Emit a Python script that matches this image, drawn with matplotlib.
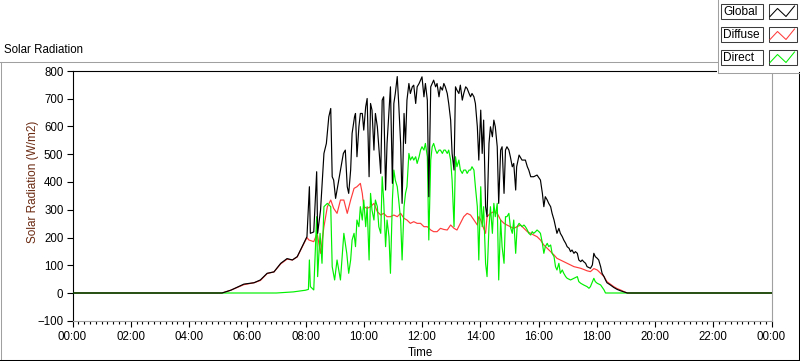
import matplotlib
matplotlib.use("Agg")
import matplotlib.pyplot as plt
from matplotlib.patches import Rectangle
from matplotlib.ticker import MultipleLocator

plt.rcParams['font.family'] = ['Liberation Sans', 'DejaVu Sans']

# ---------------- data (time in minutes since midnight, W/m2) ----------------
global_time = [0, 300, 308, 326, 353, 374, 387, 401, 415, 429, 442, 453, 463, 473, 483,
               488, 490, 497, 503, 505, 511, 518, 523, 528, 532, 535, 538, 542, 545, 552,
               558, 562, 566, 569, 573, 576, 581, 583, 586, 590, 593, 597, 600, 604, 607,
               611, 614, 617, 621, 624, 628, 635, 638, 641, 645, 648, 655, 659, 662, 665,
               669, 672, 676, 679, 683, 686, 689, 693, 696, 700, 703, 707, 710, 714, 717,
               720, 724, 727, 731, 734, 738, 741, 744, 748, 751, 755, 758, 762, 765, 768,
               772, 775, 779, 782, 786, 789, 792, 796, 799, 803, 806, 810, 813, 817, 820,
               823, 827, 830, 834, 837, 841, 844, 847, 851, 854, 858, 861, 865, 868, 871,
               875, 878, 882, 885, 889, 892, 895, 899, 902, 906, 909, 913, 915, 920, 926,
               933, 937, 940, 944, 950, 957, 964, 968, 971, 974, 978, 981, 985, 988, 992,
               995, 998, 1002, 1005, 1009, 1012, 1016, 1019, 1023, 1026, 1029, 1033, 1036, 1040, 1043,
               1047, 1050, 1053, 1057, 1060, 1067, 1071, 1074, 1077, 1081, 1084, 1088, 1091, 1095, 1098,
               1101, 1108, 1115, 1122, 1129, 1136, 1143, 1440]
global_vals = [0, 0, 0, 10, 32, 37, 47, 71, 76, 107, 124, 119, 131, 167, 203,
               383, 215, 220, 437, 215, 299, 503, 539, 635, 665, 419, 407, 341, 371, 443,
               503, 515, 383, 359, 443, 575, 635, 647, 491, 599, 647, 647, 587, 671, 701,
               419, 683, 659, 515, 647, 599, 431, 695, 707, 371, 539, 743, 395, 683, 719,
               780, 683, 539, 323, 647, 539, 695, 755, 719, 743, 749, 683, 743, 755, 767,
               779, 707, 755, 695, 347, 743, 755, 767, 743, 755, 707, 743, 731, 755, 743,
               719, 683, 623, 503, 443, 743, 731, 719, 749, 695, 719, 743, 737, 719, 707,
               719, 707, 683, 599, 479, 659, 503, 623, 311, 275, 539, 599, 563, 623, 599,
               527, 323, 515, 527, 359, 515, 527, 515, 491, 455, 467, 371, 455, 497, 479,
               479, 455, 443, 419, 419, 425, 407, 359, 311, 347, 335, 323, 311, 287, 263,
               239, 215, 233, 215, 203, 191, 179, 167, 161, 149, 155, 143, 149, 143, 119,
               113, 119, 113, 107, 95, 89, 101, 143, 131, 125, 119, 95, 71, 59, 47,
               37, 29, 20, 13, 8, 4, 0, 0]

diffuse_time = [0, 300, 308, 326, 353, 374, 387, 401, 415, 429, 442, 453, 463, 473, 483,
                487, 497, 504, 511, 518, 525, 532, 538, 545, 552, 559, 566, 573, 580, 586,
                593, 597, 600, 607, 614, 621, 628, 635, 641, 648, 655, 662, 669, 676, 683,
                689, 696, 703, 710, 717, 724, 731, 738, 744, 751, 758, 765, 772, 779, 786,
                792, 799, 806, 813, 820, 827, 834, 837, 841, 847, 851, 854, 861, 868, 875,
                882, 889, 895, 902, 909, 916, 923, 930, 937, 944, 950, 957, 964, 971, 978,
                985, 992, 998, 1005, 1012, 1019, 1026, 1033, 1040, 1047, 1053, 1060, 1067, 1074, 1081,
                1088, 1095, 1101, 1108, 1115, 1122, 1129, 1136, 1143, 1440]
diffuse_vals = [0, 0, 0, 10, 30, 37, 45, 70, 76, 105, 122, 119, 130, 165, 200,
                191, 185, 215, 143, 239, 311, 335, 305, 287, 335, 335, 287, 335, 377, 383,
                395, 359, 311, 305, 311, 323, 293, 281, 287, 275, 275, 281, 275, 287, 269,
                263, 251, 257, 251, 251, 239, 239, 227, 221, 221, 233, 229, 227, 245, 233,
                227, 251, 275, 287, 281, 263, 245, 275, 263, 233, 215, 275, 287, 293, 287,
                263, 251, 245, 239, 233, 239, 245, 233, 221, 215, 209, 203, 191, 173, 161,
                149, 137, 125, 119, 113, 107, 101, 95, 92, 89, 85, 80, 77, 88, 83,
                71, 59, 41, 32, 23, 16, 11, 5, 0, 0]

direct_time = [0, 420, 455, 480, 486, 488, 490, 497, 503, 505, 510, 514, 518, 525, 532,
               535, 540, 545, 552, 559, 565, 569, 573, 576, 580, 583, 586, 590, 593, 597,
               600, 604, 607, 611, 614, 617, 621, 624, 628, 631, 635, 638, 641, 645, 648,
               652, 655, 659, 662, 665, 669, 672, 676, 679, 683, 686, 689, 693, 696, 700,
               703, 707, 710, 714, 717, 720, 724, 727, 731, 734, 738, 741, 744, 748, 751,
               755, 758, 762, 765, 768, 772, 775, 779, 782, 786, 789, 792, 796, 799, 803,
               806, 810, 813, 817, 820, 823, 827, 830, 834, 837, 841, 844, 847, 851, 854,
               858, 861, 865, 868, 871, 875, 878, 882, 885, 889, 892, 895, 899, 902, 906,
               909, 913, 916, 920, 923, 926, 930, 933, 937, 940, 944, 947, 950, 954, 957,
               961, 964, 968, 971, 974, 978, 981, 985, 988, 992, 995, 998, 1002, 1005, 1009,
               1012, 1016, 1019, 1026, 1033, 1040, 1043, 1047, 1053, 1060, 1064, 1067, 1074, 1077, 1081,
               1088, 1095, 1098, 1440]
direct_vals = [0, 0, 4, 10, 13, 119, 23, 11, 275, 59, 215, 107, 311, 323, 311,
               95, 47, 119, 47, 215, 143, 71, 119, 191, 215, 167, 263, 239, 311, 263,
               335, 239, 311, 119, 359, 299, 263, 335, 311, 239, 215, 419, 335, 167, 263,
               203, 71, 335, 443, 407, 383, 335, 263, 119, 311, 359, 383, 503, 479, 491,
               479, 491, 467, 491, 515, 527, 515, 539, 491, 191, 479, 527, 539, 515, 503,
               515, 515, 503, 515, 515, 503, 515, 479, 407, 239, 491, 455, 479, 443, 431,
               443, 443, 431, 443, 443, 455, 443, 383, 311, 119, 383, 239, 311, 107, 59,
               239, 311, 215, 323, 275, 323, 47, 263, 167, 107, 275, 275, 287, 239, 215,
               263, 143, 239, 251, 245, 239, 245, 239, 227, 215, 209, 221, 215, 221, 227,
               221, 215, 179, 143, 167, 179, 167, 173, 143, 131, 95, 83, 107, 71, 83,
               71, 59, 53, 47, 53, 59, 41, 35, 29, 23, 17, 23, 53, 41, 35,
               29, 11, 0, 0]

series_names = ["Global", "Diffuse", "Direct"]
x_tick_labels = ["00:00", "02:00", "04:00", "06:00", "08:00", "10:00", "12:00",
                 "14:00", "16:00", "18:00", "20:00", "22:00", "00:00"]
y_ticks = [-100, 0, 100, 200, 300, 400, 500, 600, 700, 800]

# ---------------- style ----------------
C_GLOBAL = "#000000"
C_DIFFUSE = "#ff3b3b"
C_DIRECT = "#00f000"
W, H = 800, 361

fig = plt.figure(figsize=(W / 100, H / 100), dpi=100)
fig.patch.set_facecolor("white")

L, R, T, B = 72.5, 771.5, 71.0, 320.75
ax = fig.add_axes([L / W, 1 - B / H, (R - L) / W, (B - T) / H])
ax.set_facecolor("white")

ax.plot(diffuse_time, diffuse_vals, color=C_DIFFUSE, lw=0.85, zorder=2)
ax.plot(direct_time, direct_vals, color=C_DIRECT, lw=0.85, zorder=3)
ax.plot(global_time, global_vals, color=C_GLOBAL, lw=0.85, zorder=4)

ax.set_xlim(0, 1440)
ax.set_ylim(-100, 800)
ax.set_xticks(range(0, 1441, 120))
ax.set_xticklabels(x_tick_labels)
ax.xaxis.set_minor_locator(MultipleLocator(12))
ax.set_yticks(y_ticks)
ax.tick_params(axis='both', which='major', direction='out', length=4.5, width=0.8,
               labelsize=8.3, pad=2, colors='black')
ax.tick_params(axis='x', which='minor', direction='out', length=2.5, width=0.8)
ax.tick_params(axis='x', which='major', pad=3)
for s in ("left", "top"):
    ax.spines[s].set_color("black")
    ax.spines[s].set_linewidth(0.8)
for s in ("right", "bottom"):
    ax.spines[s].set_color("#a0a0a0")
    ax.spines[s].set_linewidth(0.8)

fig.text(4.5 / W, 1 - 50 / H, "Solar Radiation", fontsize=8.3, ha='left', va='center')
fig.text(33 / W, 1 - 182 / H, "Solar Radiation (W/m2)", fontsize=8.5, rotation=90,
         ha='center', va='center', color="#6a2a12")
fig.text(420 / W, 1 - 353 / H, "Time", fontsize=8.3, ha='center', va='center')

# ---------------- overlay: panel frame and legend ----------------
ov = fig.add_axes([0, 0, 1, 1], zorder=10)
ov.set_xlim(0, W)
ov.set_ylim(H, 0)
ov.axis('off')
ov.patch.set_alpha(0)

ov.plot([0.5, 0.5], [61.5, 360], color="#a0a0a0", lw=0.75)
ov.plot([0, 717], [61.5, 61.5], color="#a0a0a0", lw=0.75)
ov.plot([0, 799], [359.5, 359.5], color="black", lw=0.75)
ov.plot([798.5, 798.5], [72, 360], color="black", lw=0.75)

ov.add_patch(Rectangle((717, 0), 83, 72.5, facecolor="white", edgecolor="none"))
ov.plot([717.5, 717.5], [0, 72.5], color="#a0a0a0", lw=0.75)
ov.plot([717.5, 800], [72.5, 72.5], color="#a0a0a0", lw=0.75)

for i, (name, col) in enumerate(zip(series_names, [C_GLOBAL, C_DIFFUSE, C_DIRECT])):
    y0 = 3.5 + 23 * i
    ov.add_patch(Rectangle((720.5, y0), 42, 15, facecolor="white",
                           edgecolor="#3c3c3c", lw=0.75))
    ov.text(723, y0 + 8.5, name, fontsize=8.6, ha='left', va='center')
    ov.add_patch(Rectangle((768.5, y0), 28, 15, facecolor="white",
                           edgecolor="#3c3c3c", lw=0.75))
    ov.plot([770, 777.5, 786, 794.5], [y0 + 13, y0 + 5, y0 + 13, y0 + 2.5],
            color=col, lw=0.75)

fig.savefig("out.png", dpi=100)
